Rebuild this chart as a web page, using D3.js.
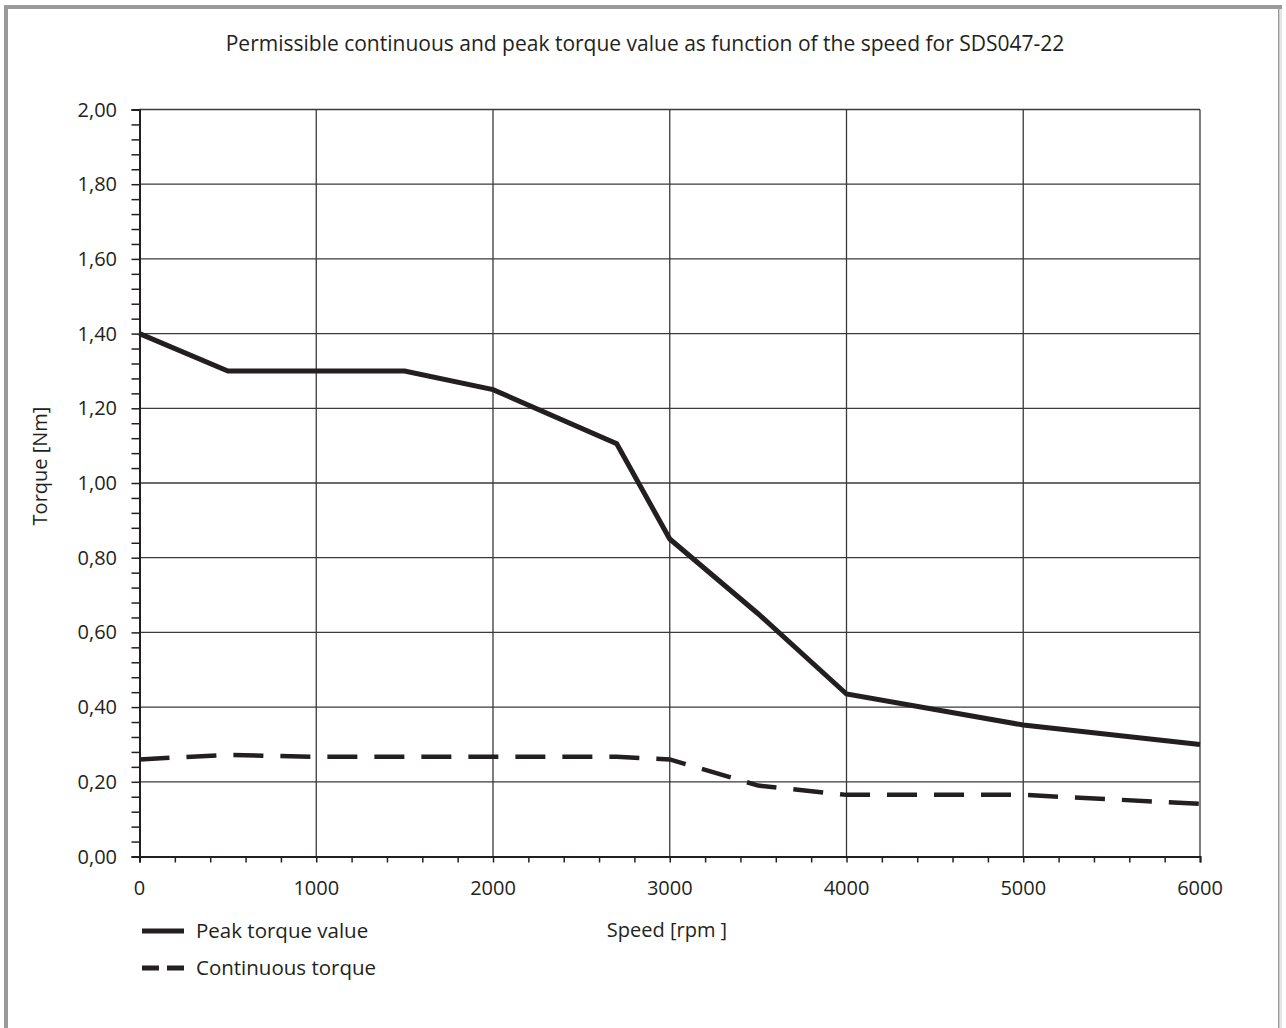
<!DOCTYPE html>
<html><head><meta charset="utf-8">
<script src="https://cdn.jsdelivr.net/npm/d3@7"></script>
<style>body{margin:0;background:#fff}svg{display:block}text{font-family:"Open Sans","Noto Sans",sans-serif;fill:#231f20}</style>
</head><body>
<script>
const speeds = [0, 500, 1500, 2000, 2700, 3000, 3500, 4000, 5000, 6000];
const peakTorque = [1.40, 1.30, 1.30, 1.25, 1.105, 0.85, 0.65, 0.435, 0.352, 0.30];
const contSpeeds = [0, 500, 1000, 2700, 3000, 3500, 4000, 5000, 6000];
const contTorque = [0.26, 0.272, 0.267, 0.267, 0.26, 0.19, 0.165, 0.165, 0.141];
const xTicks = [0, 1000, 2000, 3000, 4000, 5000, 6000];
const yTicks = [0, 0.2, 0.4, 0.6, 0.8, 1.0, 1.2, 1.4, 1.6, 1.8, 2.0];
const title = "Permissible continuous and peak torque value as function of the speed for SDS047-22";

const W = 1286, H = 1028;
const svg = d3.select("body").append("svg").attr("width", W).attr("height", H);
// frame
svg.append("rect").attr("x", 6).attr("y", 7).attr("width", 1274).attr("height", 1040)
  .attr("fill", "none").attr("stroke", "#9a9a9a").attr("stroke-width", 4);
svg.append("line").attr("x1",1281).attr("x2",1281).attr("y1",9).attr("y2",H).attr("stroke","#fff").attr("stroke-width",3);
svg.append("line").attr("x1",1281).attr("x2",1281).attr("y1",9).attr("y2",H).attr("stroke","#ccc").attr("stroke-width",1);

const x = d3.scaleLinear().domain([0, 6000]).range([139.5, 1200]);
const y = d3.scaleLinear().domain([0, 2]).range([856.5, 109.5]);
const fmt = v => d3.format(".2f")(v).replace(".", ",");

// grid
const g = svg.append("g");
g.selectAll(".vg").data(xTicks.slice(1)).join("line")
  .attr("x1", d => x(d)).attr("x2", d => x(d)).attr("y1", y(2)).attr("y2", y(0))
  .attr("stroke", "#3a3a3a").attr("stroke-width", 1.3);
g.selectAll(".hg").data(yTicks.slice(1)).join("line")
  .attr("x1", x(0)).attr("x2", x(6000)).attr("y1", d => y(d)).attr("y2", d => y(d))
  .attr("stroke", "#3a3a3a").attr("stroke-width", 1.3);

// axes
const yAxis = svg.append("g").attr("transform", `translate(${x(0)},0)`)
  .call(d3.axisLeft(y).tickValues(d3.range(0, 2.0001, 0.04)).tickSize(8).tickFormat(""));
const xAxis = svg.append("g").attr("transform", `translate(0,${y(0)})`)
  .call(d3.axisBottom(x).tickValues(d3.range(0, 6001, 200)).tickSize(6).tickFormat(""));
[yAxis, xAxis].forEach(a => {
  a.select(".domain").attr("stroke", "#231f20").attr("stroke-width", 2);
  a.selectAll(".tick line").attr("stroke", "#231f20").attr("stroke-width", 1.5);
});

// tick labels
svg.selectAll(".yl").data(yTicks).join("text")
  .attr("x", 117).attr("y", d => y(d) + 7).attr("text-anchor", "end")
  .attr("font-size", 20).text(fmt);
svg.selectAll(".xl").data(xTicks).join("text")
  .attr("x", d => x(d)).attr("y", 895).attr("text-anchor", "middle")
  .attr("font-size", 20).text(d => d);

// title & axis titles
svg.append("text").attr("x", 645).attr("y", 51).attr("text-anchor", "middle")
  .attr("font-size", 21).text(title);
svg.append("text").attr("x", 667).attr("y", 937).attr("text-anchor", "middle")
  .attr("font-size", 20).text("Speed [rpm ]");
svg.append("text").attr("transform", "translate(47,466) rotate(-90)").attr("text-anchor", "middle")
  .attr("font-size", 20).text("Torque [Nm]");

// lines
const line = d3.line().x(d => x(d[0])).y(d => y(d[1]));
svg.append("path").datum(speeds.map((s, i) => [s, peakTorque[i]]))
  .attr("d", line).attr("fill", "none").attr("stroke", "#231f20").attr("stroke-width", 5)
  .attr("stroke-linejoin", "miter");
svg.append("path").datum(contSpeeds.map((s, i) => [s, contTorque[i]]))
  .attr("d", line).attr("fill", "none").attr("stroke", "#231f20").attr("stroke-width", 4.5)
  .attr("stroke-dasharray", "30,17");

// legend
const leg = [["Peak torque value", null], ["Continuous torque", "17,8"]];
leg.forEach((l, i) => {
  const ly = 931 + i * 37;
  svg.append("line").attr("x1", 142).attr("x2", 184).attr("y1", ly).attr("y2", ly)
    .attr("stroke", "#231f20").attr("stroke-width", 5).attr("stroke-dasharray", l[1]);
  svg.append("text").attr("x", 196).attr("y", ly + 7).attr("font-size", 20.5).text(l[0]);
});
</script>
</body></html>
